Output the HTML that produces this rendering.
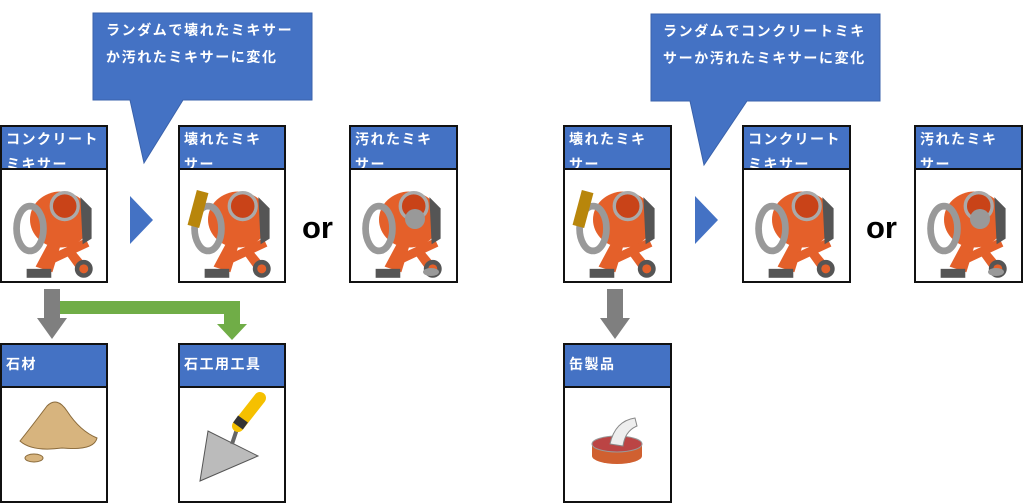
<!DOCTYPE html>
<html><head><meta charset="utf-8"><style>
body{margin:0;width:1024px;height:503px;background:#fff;position:relative;overflow:hidden;font-family:"Liberation Sans","Noto Sans CJK JP",sans-serif}
.card{position:absolute;border:2px solid #111;box-sizing:border-box;background:#fff}
.hd{background:#4472c4;color:#fff;font-weight:bold;font-size:14px;line-height:25px;padding:0 3px 0 4px;box-sizing:border-box;border-bottom:2px solid #111;height:43px;overflow:hidden;letter-spacing:1.5px}
.hd.one{line-height:38px}
.img{position:absolute;left:0;right:0;bottom:0}
.call{position:absolute;color:#fff;font-weight:bold;font-size:14px;line-height:27px;letter-spacing:1.6px}
.or{position:absolute;font-size:31px;font-weight:bold;color:#000}
svg.ov{position:absolute;left:0;top:0}
</style></head><body>
<svg class="ov" width="1024" height="503">
<defs>
<g id="mix" transform="scale(1.12)">
 <path d="M30 80 L45 52 L55 52 L45 85 Z M60 60 L75 78 L68 84 L55 66Z" fill="#e4602a"/>
 <rect x="40" y="62" width="38" height="8" fill="#e4602a" transform="rotate(-25 60 66)"/>
 <rect x="22" y="82" width="22" height="8" fill="#555"/>
 <circle cx="73" cy="82" r="8" fill="#555"/><circle cx="73" cy="82" r="4" fill="#e4602a"/>
 <ellipse cx="52" cy="38" rx="27" ry="25" fill="#e4602a"/>
 <path d="M70 18 L80 28 L80 55 L72 60Z" fill="#555"/>
 <ellipse cx="25" cy="46" rx="12" ry="20" fill="none" stroke="#999" stroke-width="6"/>
 <circle cx="56" cy="26" r="12" fill="#c94318" stroke="#aaa" stroke-width="3"/>
</g>
</defs>
<path d="M93 13 H312 V100 H183 L144 163 L130 100 H93 Z" fill="#4472c4" stroke="#3a62ab"/>
<path d="M651 14 H880 V101 H747 L704 165 L690 101 H651 Z" fill="#4472c4" stroke="#3a62ab"/>
<path d="M130 196 L153 220 L130 244 Z" fill="#4472c4"/>
<path d="M695 196 L718 220 L695 244 Z" fill="#4472c4"/>
<path d="M44 289 H60 V318 H67 L52 339 L37 318 H44 Z" fill="#7f7f7f"/>
<path d="M607 289 H623 V318 H630 L615 339 L600 318 H607 Z" fill="#7f7f7f"/>
<path d="M60 301 H240 V324 H247 L232 340 L217 324 H224 V314 H60 Z" fill="#70ad47"/>
</svg>
<div class="call" style="left:106px;top:17px">ランダムで壊れたミキサー<br>か汚れたミキサーに変化</div>
<div class="call" style="left:663px;top:18px">ランダムでコンクリートミキ<br>サーか汚れたミキサーに変化</div>
<div class="or" style="left:302px;top:210px">or</div>
<div class="or" style="left:866px;top:210px">or</div>

<div class="card" style="left:0;top:125px;width:108px;height:158px"><div class="hd">コンクリート<br>ミキサー</div><svg class="img" width="104" height="112" viewBox="0 0 104 112"><use href="#mix" x="0" y="8"/></svg></div>
<div class="card" style="left:178px;top:125px;width:108px;height:158px"><div class="hd">壊れたミキ<br>サー</div><svg class="img" width="104" height="112" viewBox="0 0 104 112"><use href="#mix" x="0" y="8"/><rect x="12" y="22" width="12" height="36" fill="#b8860b" transform="rotate(15 18 40)"/></svg></div>
<div class="card" style="left:349px;top:125px;width:109px;height:158px"><div class="hd">汚れたミキ<br>サー</div><svg class="img" width="105" height="112" viewBox="0 0 105 112"><use href="#mix" x="0" y="8"/><circle cx="64" cy="50" r="10" fill="#999"/><ellipse cx="80" cy="103" rx="8" ry="4" fill="#999"/></svg></div>

<div class="card" style="left:563px;top:125px;width:109px;height:158px"><div class="hd">壊れたミキ<br>サー</div><svg class="img" width="105" height="112" viewBox="0 0 105 112"><use href="#mix" x="0" y="8"/><rect x="12" y="22" width="12" height="36" fill="#b8860b" transform="rotate(15 18 40)"/></svg></div>
<div class="card" style="left:742px;top:125px;width:109px;height:158px"><div class="hd">コンクリート<br>ミキサー</div><svg class="img" width="105" height="112" viewBox="0 0 105 112"><use href="#mix" x="0" y="8"/></svg></div>
<div class="card" style="left:914px;top:125px;width:109px;height:158px"><div class="hd">汚れたミキ<br>サー</div><svg class="img" width="105" height="112" viewBox="0 0 105 112"><use href="#mix" x="0" y="8"/><circle cx="64" cy="50" r="10" fill="#999"/><ellipse cx="80" cy="103" rx="8" ry="4" fill="#999"/></svg></div>

<div class="card" style="left:0;top:343px;width:108px;height:160px"><div class="hd one">石材</div><svg class="img" width="104" height="115" viewBox="0 0 104 115"><path d="M18 55 Q30 40 45 20 Q55 10 65 25 Q78 45 95 52 Q92 65 60 62 Q30 66 18 55Z" fill="#d7b47e" stroke="#8a6a3a"/><ellipse cx="32" cy="72" rx="9" ry="4" fill="#d7b47e" stroke="#8a6a3a"/></svg></div>
<div class="card" style="left:178px;top:343px;width:108px;height:160px"><div class="hd one">石工用工具</div><svg class="img" width="104" height="115" viewBox="0 0 104 115"><path d="M20 95 L28 45 L78 70 Z" fill="#bbb" stroke="#555"/><path d="M52 58 L58 40" stroke="#666" stroke-width="4"/><path d="M58 40 L80 12" stroke="#f5c000" stroke-width="12" stroke-linecap="round"/><path d="M58 40 L63 33" stroke="#333" stroke-width="12"/></svg></div>
<div class="card" style="left:563px;top:343px;width:109px;height:160px"><div class="hd one">缶製品</div><svg class="img" width="105" height="115" viewBox="0 0 105 115"><ellipse cx="52" cy="70" rx="25" ry="8" fill="#d06030"/><rect x="27" y="58" width="50" height="12" fill="#d06030"/><ellipse cx="52" cy="58" rx="25" ry="8" fill="#b44" stroke="#999"/><path d="M45 58 Q50 35 70 32 L72 40 Q60 45 58 60Z" fill="#eee" stroke="#888"/></svg></div>
</body></html>
